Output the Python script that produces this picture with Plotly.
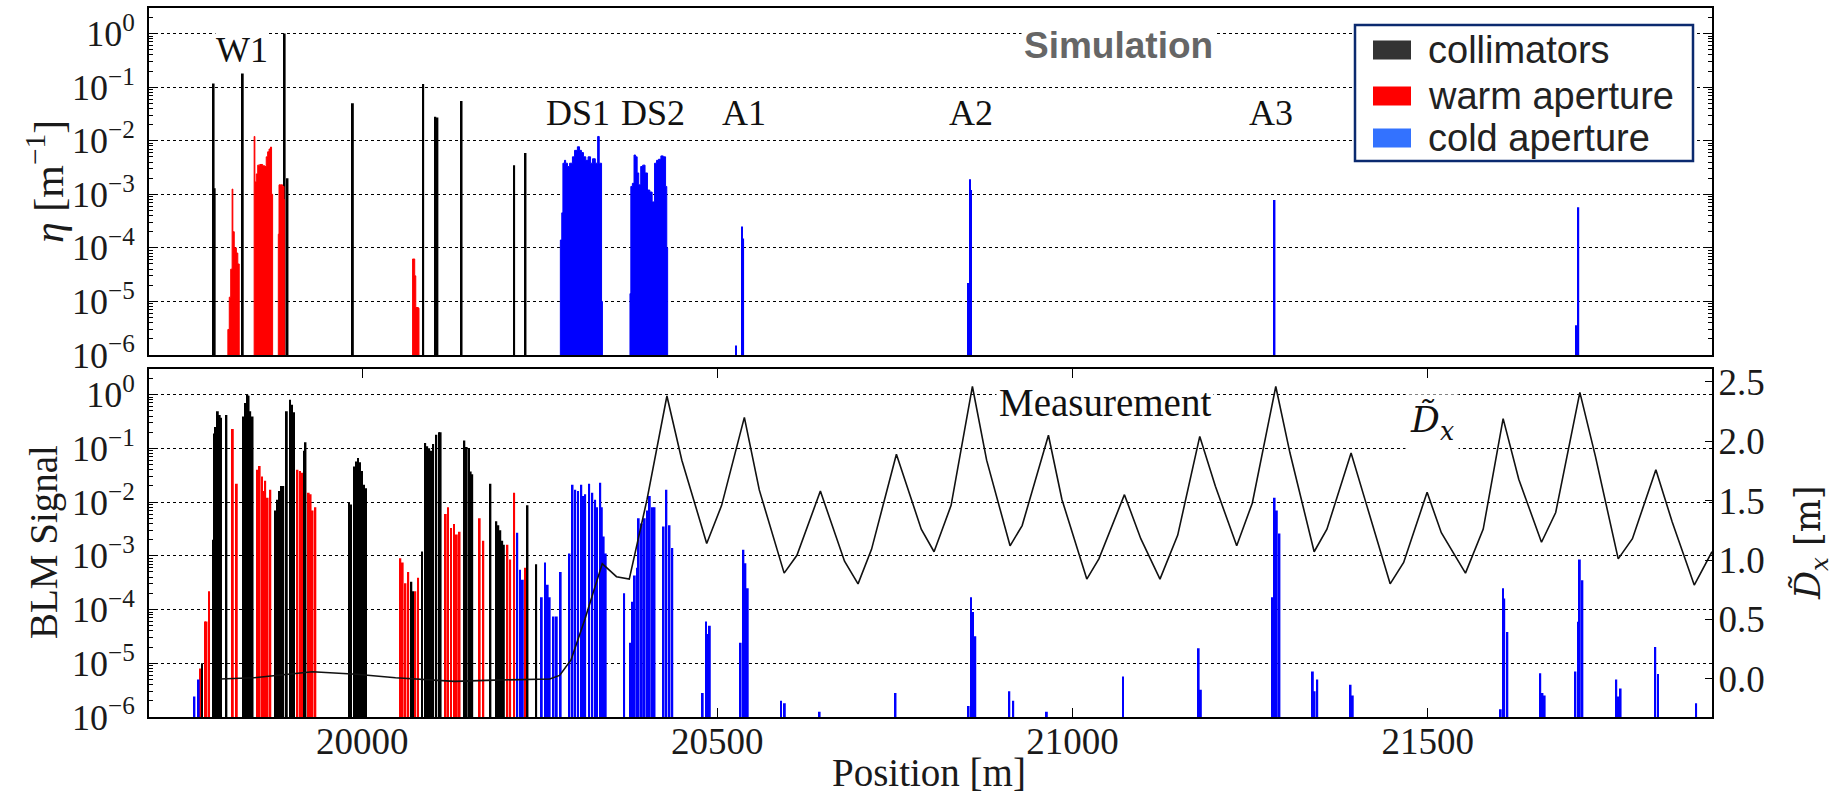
import plotly.graph_objects as go

FLOOR = 1e-6  # lower edge of both loss-map axes

# ---------------- Simulation: inefficiency eta [1/m] ----------------
# collimators (thin black lines)
sim_coll_pos = [19791, 19792.5, 19832, 19891, 19895, 19987, 20086, 20103, 20106, 20140, 20214, 20230]
sim_coll_eta = [0.117, 1.3e-3, 0.18, 1.0, 2.0e-3, 0.05, 0.115, 0.028, 0.027, 0.055, 3.5e-3, 5.9e-3]

# warm aperture loss profiles (step histograms, last value closes at the floor)
warm_a_pos = [19811, 19813, 19815, 19817, 19818, 19820, 19823, 19825, 19827]
warm_a_eta = [3e-6, 1.2e-5, 4e-5, 1.25e-3, 2e-4, 1e-4, 8e-5, 5e-5, FLOOR]
warm_b_pos = [19848, 19849, 19851, 19853, 19856, 19860, 19863, 19865, 19867, 19869, 19871, 19872.5, 19874]
warm_b_eta = [1.2e-2, 1.7e-3, 2.4e-3, 3.5e-3, 3.6e-3, 3.4e-3, 3.3e-3, 5e-3, 6.2e-3, 7e-3, 7.6e-3, 1e-3, FLOOR]
warm_c_pos = [19882, 19883, 19885, 19888, 19890, 19891]
warm_c_eta = [1.8e-4, 1.5e-3, 1.5e-3, 1.4e-3, 8e-4, FLOOR]
warm_d_pos = [20071, 20072, 20074, 20075.5, 20079, 20080]
warm_d_eta = [6.2e-5, 6.2e-5, 3e-5, 7.7e-6, 7.5e-6, FLOOR]

# cold aperture: dispersion suppressor profiles
ds1_pos = [20279, 20281, 20282.6, 20284.8, 20286.4, 20289, 20292, 20296, 20299, 20303, 20306,
           20308.7, 20311.5, 20314.8, 20318, 20321.5, 20324.3, 20328.2, 20331.5, 20333.7,
           20334.8, 20337, 20338.2]
ds1_eta = [1.4e-4, 4.5e-4, 3.8e-3, 4.3e-3, 3.8e-3, 3.3e-3, 3.8e-3, 5e-3, 6.6e-3, 7.7e-3, 6.6e-3,
           6e-3, 5e-3, 4.3e-3, 5e-3, 3.8e-3, 4.6e-3, 3.8e-3, 1.2e-2, 3.8e-3,
           3.8e-3, 1e-5, FLOOR]
ds2_pos = [20377, 20378.2, 20380.4, 20382.7, 20384.9, 20387.1, 20389.3, 20392.1, 20394.9, 20398.2,
           20401.6, 20404.9, 20408.2, 20411.6, 20414.4, 20417.1, 20420.5, 20423.8, 20427.1,
           20428.8, 20430]
ds2_eta = [1.4e-5, 1.4e-3, 1.6e-3, 5.4e-3, 5.0e-3, 2.5e-3, 1.5e-3, 3.3e-3, 3.5e-3, 2.5e-3,
           1.2e-3, 1.1e-3, 7.2e-4, 3.8e-3, 4.3e-3, 4.5e-3, 5.2e-3, 5.0e-3, 1.4e-3,
           1e-4, FLOOR]

# cold aperture: isolated arc spikes
arc_pos = [20526, 20535, 20536.5, 20852.5, 20855.5, 20857, 21284.4, 21709, 21712]
arc_eta = [1.5e-6, 2.5e-4, 1.5e-4, 2.2e-5, 1.9e-3, 1.2e-3, 7.8e-4, 3.6e-6, 5.7e-4]

# ---------------- Measurement: BLM signal ----------------
blm_coll_pos = [19774.6, 19790, 19792.4, 19794, 19796.9, 19799.6, 19801.3, 19809,
                19833, 19835.8, 19838.6, 19840.2, 19842.5, 19845.8,
                19878.6, 19880.3, 19883, 19887, 19889,
                19894, 19898.6, 19901.4, 19904, 19919.2, 19920.3,
                19981.5, 19984.3, 19988.7, 19991.5, 19994.3, 19997, 19999.8, 20002.6, 20005.4,
                20069.3, 20071.5, 20084.4, 20088.8, 20091.6, 20094.4, 20097, 20100, 20104.4, 20108.3, 20110.5,
                20143.9, 20147.2, 20150.5, 20152.8, 20155, 20180.6,
                20188.9, 20191.7, 20194.5, 20197.2, 20199.5, 20232.8, 20245]
blm_coll_val = [1e-5, 2e-3, 0.19, 0.25, 0.49, 0.42, 0.37, 0.42,
                0.39, 0.7, 1.0, 0.95, 0.49, 0.39,
                0.007, 0.011, 0.016, 0.02, 0.02,
                0.49, 0.8, 0.65, 0.47, 0.09, 0.13,
                0.01, 0.009, 0.046, 0.057, 0.066, 0.055, 0.038, 0.021, 0.018,
                3.3e-4, 2.2e-4, 1.2e-3, 0.126, 0.11, 0.1, 0.09, 0.12, 0.18, 0.2, 0.2,
                0.14, 0.106, 0.1, 0.037, 0.033, 0.022,
                0.0044, 0.0037, 0.003, 0.0019, 0.0016, 0.0087, 7e-4]

blm_warm_pos = [19772, 19779, 19781, 19784.6, 19818, 19823.6,
                19852.5, 19855.8, 19859, 19860.8, 19863.6, 19867, 19870.8,
                19909, 19912.5, 19915.9, 19924.8, 19927.5, 19930.3, 19934.2,
                20053.8, 20057.1, 20061, 20064.9, 20074.9, 20078.8,
                20117.7, 20121, 20125, 20129.4, 20133.3, 20137.2,
                20165.5, 20170.6, 20204.5, 20208.4, 20214, 20229.5]
blm_warm_val = [8e-6, 6e-5, 6e-5, 2.2e-4, 0.23, 0.022,
                0.04, 0.047, 0.03, 0.016, 0.025, 0.012, 0.017,
                0.04, 0.038, 0.035, 0.015, 0.014, 0.007, 0.008,
                9e-4, 7.5e-4, 3.1e-4, 5e-4, 2.2e-4, 3.9e-4,
                0.006, 0.008, 0.0033, 0.0039, 0.0025, 0.0028,
                0.005, 0.0019, 0.0016, 8.5e-4, 0.015, 6e-4]

blm_cold_pos = [19764, 19770, 20218.4, 20222.3, 20226.2,
                20252.9, 20257.3, 20261.2, 20264, 20269.5, 20274, 20279.5,
                20291.8, 20296.2, 20300, 20304, 20308.5, 20311.8, 20314, 20319.6, 20324, 20328,
                20330.7, 20335.2, 20337.4, 20340, 20342.9,
                20368.8, 20377, 20381, 20383.8, 20387, 20389.3, 20393.8, 20397.7, 20401, 20404.9,
                20408.8, 20411.6, 20424.4, 20428.3, 20432.7, 20436.6,
                20479.4, 20483.9, 20486.6, 20489.4, 20532.8, 20536.7, 20539.5, 20542.8,
                20589.5, 20595, 20644, 20750.8, 20853.7, 20857, 20859.8, 20863.1,
                20911, 20916.5, 20963.8, 21071, 21177.5, 21180.6,
                21281.3, 21284.4, 21287.5, 21291.2, 21338.2, 21340.7, 21344.4, 21391.3, 21394.4,
                21602.7, 21605.8, 21607.6, 21612, 21658.3, 21661.4, 21664.5,
                21707.8, 21711.5, 21714, 21717.6, 21765.3, 21768.3, 21771.4,
                21820.2, 21824, 21877.7]
blm_cold_val = [2.4e-6, 5e-6, 2.7e-3, 5.5e-4, 3.6e-4,
                1.7e-4, 7.5e-4, 2.9e-4, 1.7e-4, 7.4e-5, 7.4e-5, 5e-4,
                1.1e-3, 0.021, 0.017, 0.016, 0.021, 0.013, 0.014, 0.022, 0.015, 0.011,
                0.008, 0.023, 0.008, 0.0023, 0.0011,
                2e-4, 2.4e-5, 1.4e-4, 4.3e-4, 6e-4, 5e-3, 4e-3, 5e-3, 7e-3, 0.013,
                0.008, 0.008, 3.5e-3, 0.017, 3.7e-3, 1.4e-3,
                2.8e-6, 6e-5, 3.5e-5, 5e-5, 2.4e-5, 1.3e-3, 7.3e-4, 2.5e-4,
                2e-6, 1.8e-6, 1.25e-6, 2.8e-6, 1.6e-6, 1.7e-4, 9e-5, 3.2e-5,
                3e-6, 2e-6, 1.25e-6, 5.7e-6, 1.9e-5, 3.2e-6,
                1.7e-4, 0.012, 0.007, 2.6e-3, 7e-6, 3e-6, 5e-6, 4e-6, 2.5e-6,
                1.4e-6, 2.5e-4, 1.6e-4, 3.8e-5, 6.5e-6, 2.8e-6, 2.5e-6,
                7e-6, 5.9e-5, 8.5e-4, 3.5e-4, 5e-6, 2.4e-6, 3.4e-6,
                2e-5, 6.3e-6, 1.8e-6]

# normalised horizontal dispersion along the ring
dx_pos = [19800, 19847, 19930, 19992, 20047, 20130, 20186, 20264, 20278, 20294, 20314, 20338,
          20358, 20376, 20401, 20429, 20450, 20485, 20506, 20538, 20559, 20594, 20612, 20645,
          20679, 20698, 20717, 20752, 20787, 20805, 20829, 20859, 20879, 20912, 20929, 20966,
          20985, 21020, 21037, 21073, 21096, 21123, 21148, 21179, 21201, 21231, 21253, 21286,
          21306, 21340, 21358, 21392, 21414, 21447, 21466, 21499, 21519, 21553, 21578, 21606,
          21628, 21660, 21680, 21714, 21736, 21768, 21788, 21821, 21844, 21875, 21900]
dx_val = [0.0, 0.01, 0.06, 0.04, 0.01, -0.02, -0.01, 0.0, 0.03, 0.16, 0.51, 0.97,
          0.86, 0.84, 1.51, 2.38, 1.84, 1.14, 1.46, 2.20, 1.59, 0.89, 1.04, 1.58,
          0.99, 0.80, 1.09, 1.89, 1.26, 1.07, 1.46, 2.46, 1.84, 1.12, 1.29, 2.05,
          1.51, 0.84, 1.01, 1.55, 1.18, 0.84, 1.21, 2.04, 1.62, 1.12, 1.48, 2.46,
          1.90, 1.07, 1.26, 1.90, 1.46, 0.80, 0.98, 1.57, 1.23, 0.89, 1.26, 2.19,
          1.68, 1.15, 1.40, 2.41, 1.87, 1.01, 1.18, 1.76, 1.32, 0.79, 1.07]

# axis ticks
x_ticks = [20000, 20500, 21000, 21500]
log_ticks = [1e-6, 1e-5, 1e-4, 1e-3, 1e-2, 1e-1, 1.0]
log_tick_text = ["10<sup>−6</sup>", "10<sup>−5</sup>", "10<sup>−4</sup>", "10<sup>−3</sup>",
                 "10<sup>−2</sup>", "10<sup>−1</sup>", "10<sup>0</sup>"]
dx_ticks = [0.0, 0.5, 1.0, 1.5, 2.0, 2.5]
dx_tick_text = ["0.0", "0.5", "1.0", "1.5", "2.0", "2.5"]

# region labels in the simulation panel
region_names = ["W1", "DS1", "DS2", "A1", "A2", "A3"]
region_pos = [19831, 20304, 20409, 20537, 20857, 21279]

# ---------------- figure ----------------
W, H = 1839, 810
ML, MR, MT, MB = 149, 127, 8, 93
PW, PH = W - ML - MR, H - MT - MB


def px_x(px):
    return (px - ML) / PW


def px_y(py):
    return (H - MB - py) / PH


top_dom = [px_y(355), 1.0]
bot_dom = [0.0, px_y(369)]

BLACK, RED, BLUE = "#000000", "#ff0000", "#0000ff"
SERIF = "Liberation Serif"
SANS = "Liberation Sans"

fig = go.Figure()

# --- top panel ---
fig.add_trace(go.Bar(x=sim_coll_pos, y=sim_coll_eta, width=2.6, marker=dict(color=BLACK, line_width=0),
                     xaxis="x", yaxis="y", showlegend=False))
for pos, eta, col in [(warm_a_pos, warm_a_eta, RED), (warm_b_pos, warm_b_eta, RED),
                      (warm_c_pos, warm_c_eta, RED), (warm_d_pos, warm_d_eta, RED),
                      (ds1_pos, ds1_eta, BLUE), (ds2_pos, ds2_eta, BLUE)]:
    fig.add_trace(go.Scatter(x=[pos[0]] + pos, y=[FLOOR] + eta, mode="lines", line=dict(color=col, width=1, shape="hv"),
                             fill="toself", fillcolor=col, xaxis="x", yaxis="y", showlegend=False,
                             hoverinfo="skip"))
fig.add_trace(go.Bar(x=arc_pos, y=arc_eta, width=2.2, marker=dict(color=BLUE, line_width=0),
                     xaxis="x", yaxis="y", showlegend=False))

# --- bottom panel ---
for pos, val, col in [(blm_warm_pos, blm_warm_val, RED), (blm_coll_pos, blm_coll_val, BLACK),
                      (blm_cold_pos, blm_cold_val, BLUE)]:
    fig.add_trace(go.Bar(x=pos, y=val, width=2.6, marker=dict(color=col, line_width=0),
                         xaxis="x2", yaxis="y2", showlegend=False))
fig.add_trace(go.Scatter(x=dx_pos, y=dx_val, mode="lines", line=dict(color="#111111", width=1.6),
                         xaxis="x2", yaxis="y3", showlegend=False))

minor_vals = [m * 10.0 ** e for e in range(-6, 0) for m in range(2, 10)] + [2.0]

tick_font = dict(family=SERIF, size=36, color="#1a1a1a")
frame = dict(showline=True, linewidth=2, linecolor="black", zeroline=False)
log_axis = dict(type="log", range=[-6, 0.4771], tickmode="array", tickvals=log_ticks, ticktext=log_tick_text,
                ticks="inside", ticklen=9, tickwidth=1.2, tickcolor="black",
                minor=dict(tickmode="array", tickvals=minor_vals, ticks="inside", ticklen=4,
                           tickcolor="black", showgrid=False),
                showgrid=True, gridcolor="black", gridwidth=1, griddash="dot",
                tickfont=tick_font, ticklabelstandoff=5, automargin=False, **frame)

fig.update_layout(
    width=W, height=H, autosize=False,
    margin=dict(l=ML, r=MR, t=MT, b=MB, pad=0),
    paper_bgcolor="white", plot_bgcolor="white",
    barmode="overlay", showlegend=False,
    xaxis=dict(domain=[0, 1], range=[19700, 21900], anchor="y", mirror=True, showticklabels=False,
               ticks="", showgrid=False, automargin=False, **frame),
    yaxis=dict(domain=top_dom, anchor="x", mirror="ticks", **log_axis),
    xaxis2=dict(domain=[0, 1], range=[19700, 21900], anchor="y2", mirror="ticks",
                tickmode="array", tickvals=x_ticks, ticktext=[str(v) for v in x_ticks],
                ticks="inside", ticklen=9, tickwidth=1.2, tickcolor="black", showgrid=False,
                tickfont=dict(family=SERIF, size=37, color="#1a1a1a"), ticklabelstandoff=-9,
                automargin=False, **frame),
    yaxis2=dict(domain=bot_dom, anchor="x2", mirror=False, **log_axis),
    yaxis3=dict(overlaying="y2", anchor="x2", side="right", range=[-0.32, 2.607],
                tickmode="array", tickvals=dx_ticks, ticktext=dx_tick_text,
                ticks="inside", ticklen=7, tickwidth=1.2, tickcolor="black", showgrid=False,
                tickfont=dict(family=SERIF, size=37, color="#1a1a1a"), ticklabelstandoff=-3,
                automargin=False, **frame),
)

ann = []
# region labels
for name, pos in zip(region_names, region_pos):
    ann.append(dict(x=pos, y=-0.31 if name == "W1" else -1.49, xref="x", yref="y", text=name,
                    showarrow=False, font=dict(family=SERIF, size=36, color="#111111"),
                    bgcolor="white", borderpad=0, xanchor="center", yanchor="middle"))
ann.append(dict(x=21065, y=-0.22, xref="x", yref="y", text="<b>Simulation</b>", showarrow=False,
                font=dict(family=SANS, size=37, color="#666666"), bgcolor="white", borderpad=2,
                xanchor="center", yanchor="middle"))
ann.append(dict(x=21046, y=-0.15, xref="x2", yref="y2", text="Measurement", showarrow=False,
                font=dict(family=SERIF, size=39, color="#111111"), bgcolor="white", borderpad=2,
                xanchor="center", yanchor="middle"))
ann.append(dict(x=21506, y=-0.52, xref="x2", yref="y2", text="<i>D\u0303</i><sub><i>x</i></sub>", showarrow=False,
                font=dict(family="DejaVu Serif", size=36, color="#111111"), bgcolor="white", borderpad=4,
                xanchor="center", yanchor="middle"))
# axis titles
title_font = dict(family=SERIF, size=39, color="#1a1a1a")
for text, px, py, angle, font in [
        ("<i>η</i> [m<sup>−1</sup>]", 46, 182, -90, dict(family=SERIF, size=42, color="#1a1a1a")),
        ("BLM Signal", 44, 542, -90, title_font),
        ("<i>D\u0303</i><sub><i>x</i></sub> [m]", 1811, 543, -90,
         dict(family="DejaVu Serif", size=35, color="#1a1a1a")),
        ("Position [m]", 929, 772, 0, title_font)]:
    ann.append(dict(x=px_x(px), y=px_y(py), xref="paper", yref="paper", text=text, textangle=angle,
                    showarrow=False, font=font, xanchor="center", yanchor="middle"))

# legend box drawn by hand
shapes = [dict(type="rect", xref="paper", yref="paper", x0=px_x(1355), x1=px_x(1693),
               y0=px_y(161), y1=px_y(25), line=dict(color="#0b2a6f", width=2.5), fillcolor="white",
               layer="above")]
legend_items = [("collimators", "#333333", 50), ("warm aperture", "#ff0000", 96),
                ("cold aperture", "#3372ff", 138)]
for label, col, yc in legend_items:
    shapes.append(dict(type="rect", xref="paper", yref="paper", x0=px_x(1373), x1=px_x(1411),
                       y0=px_y(yc + 9.5), y1=px_y(yc - 9.5), line_width=0, fillcolor=col, layer="above"))
    ann.append(dict(x=px_x(1426), y=px_y(yc), xref="paper", yref="paper", text=label,
                    xanchor="left", yanchor="middle",
                    showarrow=False, font=dict(family=SANS, size=38, color="#222222")))

fig.update_layout(annotations=ann, shapes=shapes)

fig.write_html("out.html")
